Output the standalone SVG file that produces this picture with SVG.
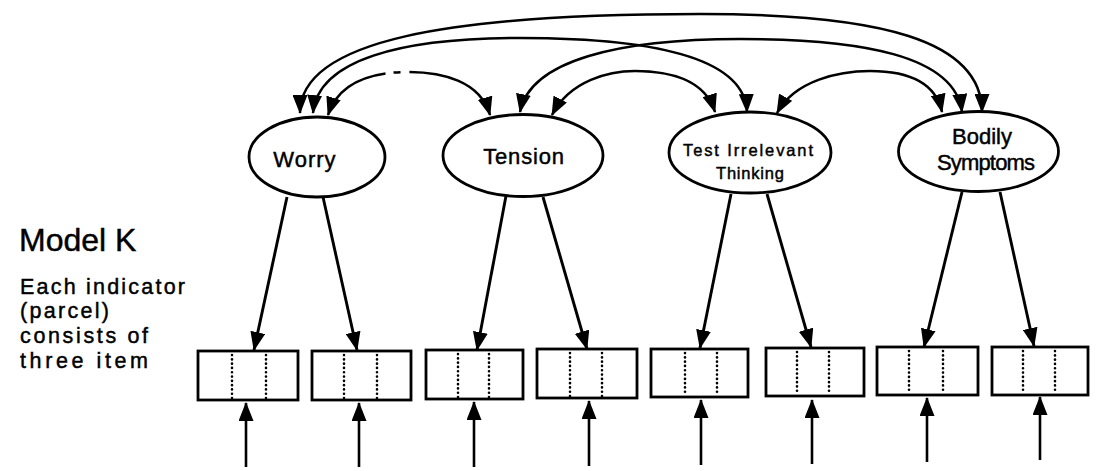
<svg xmlns="http://www.w3.org/2000/svg" width="1096" height="471" viewBox="0 0 1096 471">
  <style>
    .bg { fill: #ffffff; }
    .latent { fill: #ffffff; stroke: #000000; stroke-width: 2.8; }
    .box { fill: #ffffff; stroke: #000000; stroke-width: 2.8; }
    .item { stroke: #000000; stroke-width: 2.6; stroke-dasharray: 0.1 4.2; stroke-linecap: round; fill: none; }
    .cov { fill: none; stroke: #000000; stroke-width: 2.5; marker-start: url(#head); marker-end: url(#head); }
    .load { fill: none; stroke: #000000; stroke-width: 2.9; marker-end: url(#head); }
    .err { fill: none; stroke: #000000; stroke-width: 2.6; marker-end: url(#head); }
    .lbl { font-family: "Liberation Sans", Arial, sans-serif; fill: #000000; stroke: #000000; stroke-width: 0.45; text-anchor: middle; }
    .side { font-family: "Liberation Sans", Arial, sans-serif; fill: #000000; stroke: #000000; stroke-width: 0.45; }
  </style>
  <defs>
    <marker id="head" viewBox="0 0 19 15" refX="18" refY="7.5" markerWidth="19" markerHeight="15" markerUnits="userSpaceOnUse" orient="auto-start-reverse">
      <path d="M0,0 L19,7.5 L0,15 Z" fill="#000000"/>
    </marker>
  </defs>

  <rect class="bg" x="0" y="0" width="1096" height="471"/>

  <!-- side captions -->
  <text class="side" x="19" y="251" font-size="32" stroke-width="0.3">Model K</text>
  <g class="side" font-size="21.5">
    <text x="20" y="294" textLength="165" lengthAdjust="spacing">Each  indicator</text>
    <text x="20" y="318" textLength="89" lengthAdjust="spacing">(parcel)</text>
    <text x="20" y="343" textLength="128" lengthAdjust="spacing">consists  of</text>
    <text x="20" y="368" textLength="128" lengthAdjust="spacing">three  item</text>
  </g>

  <!-- connectors -->
  <g id="connectors">
    <!-- factor covariances -->
    <path class="cov" d="M300,113 C300,40 450,14 700,14 C880,14 982,40 982,112"/>
    <path class="cov" d="M313,113 C318,60 400,38 520,38 C660,38 745,60 747,112"/>
    <path class="cov" d="M520,112 C530,60 620,39 740,39 C860,39 955,55 962,112"/>
    <path class="cov" d="M552,115 C570,80 610,71 635,71 C670,71 705,80 715,112"/>
    <path class="cov" d="M777,113 C795,80 840,71 870,71 C905,71 935,80 942,112"/>
    <path class="cov" d="M328,115 C340,78 380,72 408,72 C440,72 480,80 490,115" stroke-dasharray="75 8 7 9 200"/>

    <!-- loadings -->
    <line class="load" x1="287" y1="197" x2="254" y2="350"/>
    <line class="load" x1="323" y1="197" x2="357" y2="350"/>
    <line class="load" x1="506" y1="196" x2="477" y2="350"/>
    <line class="load" x1="543" y1="197" x2="587" y2="349"/>
    <line class="load" x1="731" y1="194" x2="700" y2="348"/>
    <line class="load" x1="767" y1="194" x2="811" y2="347"/>
    <line class="load" x1="962" y1="192" x2="924" y2="347"/>
    <line class="load" x1="1000" y1="192" x2="1034" y2="346"/>

    <!-- residuals -->
    <line class="err" x1="246" y1="467" x2="246" y2="403"/>
    <line class="err" x1="359" y1="467" x2="359" y2="403"/>
    <line class="err" x1="474" y1="467" x2="474" y2="402"/>
    <line class="err" x1="589" y1="466" x2="589" y2="401"/>
    <line class="err" x1="701" y1="465" x2="701" y2="400"/>
    <line class="err" x1="812" y1="464" x2="812" y2="400"/>
    <line class="err" x1="927" y1="462" x2="927" y2="398"/>
    <line class="err" x1="1040" y1="460" x2="1040" y2="397"/>
  </g>

  <!-- latent factors -->
  <g id="worry">
    <ellipse class="latent" cx="317" cy="157" rx="68" ry="40"/>
    <text class="lbl" x="305" y="167" font-size="22" letter-spacing="1">Worry</text>
  </g>
  <g id="tension">
    <ellipse class="latent" cx="523" cy="155.5" rx="80" ry="41"/>
    <text class="lbl" x="524" y="164" font-size="22" letter-spacing="0.8">Tension</text>
  </g>
  <g id="test-irrelevant-thinking">
    <ellipse class="latent" cx="750" cy="152.5" rx="81" ry="40.5"/>
    <text class="lbl" x="748" y="156" font-size="16.5" textLength="130" lengthAdjust="spacing">Test  Irrelevant</text>
    <text class="lbl" x="750" y="179" font-size="16.5" textLength="68" lengthAdjust="spacing">Thinking</text>
  </g>
  <g id="bodily-symptoms">
    <ellipse class="latent" cx="978.5" cy="151.5" rx="80" ry="40"/>
    <text class="lbl" x="982" y="144" font-size="22">Bodily</text>
    <text class="lbl" x="986" y="170" font-size="22" textLength="98" lengthAdjust="spacing">Symptoms</text>
  </g>

  <!-- indicator parcels, three items each -->
  <g id="parcel-1">
    <rect class="box" x="198" y="351" width="100" height="49"/>
    <line class="item" x1="232" y1="355" x2="232" y2="398"/>
    <line class="item" x1="266" y1="355" x2="266" y2="398"/>
  </g>
  <g id="parcel-2">
    <rect class="box" x="312" y="351" width="99" height="49"/>
    <line class="item" x1="344" y1="355" x2="344" y2="398"/>
    <line class="item" x1="377" y1="355" x2="377" y2="398"/>
  </g>
  <g id="parcel-3">
    <rect class="box" x="426" y="350" width="97" height="49"/>
    <line class="item" x1="458" y1="354" x2="458" y2="397"/>
    <line class="item" x1="489" y1="354" x2="489" y2="397"/>
  </g>
  <g id="parcel-4">
    <rect class="box" x="537" y="349" width="100" height="49"/>
    <line class="item" x1="570" y1="353" x2="570" y2="396"/>
    <line class="item" x1="602" y1="353" x2="602" y2="396"/>
  </g>
  <g id="parcel-5">
    <rect class="box" x="651" y="349" width="97" height="48"/>
    <line class="item" x1="685" y1="353" x2="685" y2="395"/>
    <line class="item" x1="717" y1="353" x2="717" y2="395"/>
  </g>
  <g id="parcel-6">
    <rect class="box" x="766" y="348" width="98" height="48"/>
    <line class="item" x1="797" y1="352" x2="797" y2="394"/>
    <line class="item" x1="829" y1="352" x2="829" y2="394"/>
  </g>
  <g id="parcel-7">
    <rect class="box" x="877" y="347" width="101" height="48"/>
    <line class="item" x1="909" y1="351" x2="909" y2="393"/>
    <line class="item" x1="943" y1="351" x2="943" y2="393"/>
  </g>
  <g id="parcel-8">
    <rect class="box" x="992" y="347" width="96" height="48"/>
    <line class="item" x1="1023" y1="351" x2="1023" y2="393"/>
    <line class="item" x1="1055" y1="351" x2="1055" y2="393"/>
  </g>
</svg>
